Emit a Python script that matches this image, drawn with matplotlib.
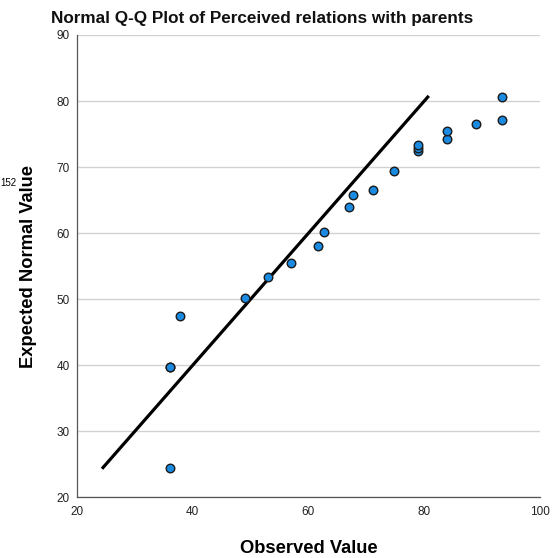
import numpy as np
import matplotlib.pyplot as plt

plt.rcParams['font.family'] = ['Liberation Sans', 'DejaVu Sans']

# Observed vs expected normal values
observed = [36, 36, 36, 37.8, 49, 53, 56.9, 61.7, 62.7, 67, 67.7, 71.1,
            74.7, 79, 79, 79, 84, 84, 88.9, 93.4, 93.4]
expected = [24.5, 39.7, 39.8, 47.4, 50.2, 53.4, 55.5, 58.1, 60.1, 64.0, 65.8, 66.6,
            69.4, 72.4, 72.9, 73.4, 74.3, 75.5, 76.5, 77.2, 80.6]

fig = plt.figure(figsize=(5.57, 5.58), dpi=100)
ax = fig.add_axes([0.1382, 0.1088, 0.8313, 0.8285])

ax.set_xlim(20, 100)
ax.set_ylim(20, 90)
ax.set_xticks([20, 40, 60, 80, 100])
ax.set_yticks([20, 30, 40, 50, 60, 70, 80, 90])
ax.grid(axis='y', color='#d2d2d2', linewidth=1)
ax.set_axisbelow(True)

# reference line y = x over the expected range
lo, hi = min(expected), max(expected)
ax.plot([lo, hi], [lo, hi], color='black', linewidth=2.3, zorder=2)

ax.scatter(observed, expected, s=38, color='#1b8be2', edgecolor='#1a1a1a',
           linewidth=1.0, zorder=3)

for side in ['top', 'right']:
    ax.spines[side].set_visible(False)
for side in ['left', 'bottom']:
    ax.spines[side].set_color('#555555')
    ax.spines[side].set_linewidth(0.9)
ax.tick_params(axis='both', length=0, labelsize=8.5, colors='#222222')
ax.tick_params(axis='x', pad=6)
ax.tick_params(axis='y', pad=5)

fig.text(262 / 557, 1 - 18 / 558, 'Normal Q-Q Plot of Perceived relations with parents',
         fontsize=12.3, fontweight='bold', color='#111111', ha='center', va='center')
ax.set_xlabel('Observed Value', fontsize=13.2, fontweight='bold', labelpad=16)
ax.set_ylabel('Expected Normal Value', fontsize=13.2, fontweight='bold', labelpad=14)
fig.text(0.0, 1 - 183 / 558, '152', fontsize=7, va='center', ha='left')

fig.savefig('out.png', dpi=100)
